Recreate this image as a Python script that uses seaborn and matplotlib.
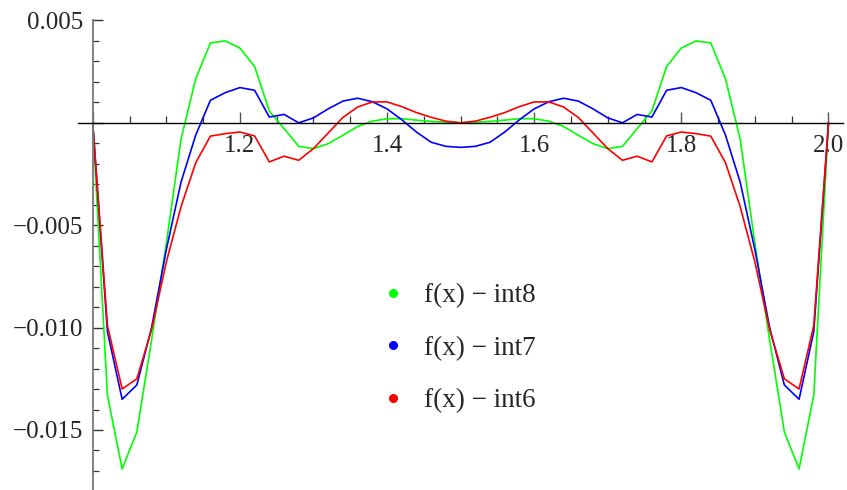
import matplotlib
matplotlib.use("Agg")
import matplotlib.pyplot as plt
from matplotlib.lines import Line2D
from matplotlib.ticker import FixedLocator, FixedFormatter, MultipleLocator
import numpy as np
import pandas as pd
import seaborn as sns

# ---- data ----
x_vals = [1.00, 1.02, 1.04, 1.06, 1.08, 1.10, 1.12, 1.14, 1.16, 1.18,
          1.20, 1.22, 1.24, 1.26, 1.28, 1.30, 1.32, 1.34, 1.36, 1.38,
          1.40, 1.42, 1.44, 1.46, 1.48, 1.50, 1.52, 1.54, 1.56, 1.58,
          1.60, 1.62, 1.64, 1.66, 1.68, 1.70, 1.72, 1.74, 1.76, 1.78,
          1.80, 1.82, 1.84, 1.86, 1.88, 1.90, 1.92, 1.94, 1.96, 1.98, 2.00]

int8_err = [0.0, -0.0133, -0.0169, -0.0151, -0.0106, -0.0059, -0.0008, 0.00215, 0.0039, 0.0040,
            0.00365, 0.00275, 0.00058, -0.00028, -0.00115, -0.00126, -0.00102, -0.00061, -0.00018, 0.00008,
            0.0002, 0.0002, 0.00013, 0.00007, 0.00003, 0.0, 0.00003, 0.00007, 0.00013, 0.0002,
            0.0002, 0.00008, -0.00018, -0.00061, -0.00102, -0.00126, -0.00115, -0.00028, 0.00058, 0.00275,
            0.00365, 0.0040, 0.0039, 0.00215, -0.0008, -0.0059, -0.0106, -0.0151, -0.0169, -0.0133, 0.0]

int7_err = [0.0, -0.0102, -0.0135, -0.0128, -0.0100, -0.0062, -0.0029, -0.0006, 0.0011, 0.00147,
            0.00172, 0.00159, 0.00028, 0.00041, 0.0, 0.00024, 0.00068, 0.00106, 0.0012, 0.00103,
            0.00068, 0.00015, -0.00045, -0.00095, -0.00115, -0.0012, -0.00115, -0.00095, -0.00045, 0.00015,
            0.00068, 0.00103, 0.0012, 0.00106, 0.00068, 0.00024, 0.0, 0.00041, 0.00028, 0.00159,
            0.00172, 0.00147, 0.0011, -0.0006, -0.0029, -0.0062, -0.0100, -0.0128, -0.0135, -0.0102, 0.0]

int6_err = [0.0, -0.0099, -0.0130, -0.0125, -0.0101, -0.0068, -0.0041, -0.00195, -0.00065, -0.00053,
            -0.00045, -0.00064, -0.00191, -0.00163, -0.00183, -0.00126, -0.0005, 0.00026, 0.00077, 0.00102,
            0.00102, 0.00079, 0.0005, 0.00027, 0.00008, 0.0, 0.00008, 0.00027, 0.0005, 0.00079,
            0.00102, 0.00102, 0.00077, 0.00026, -0.0005, -0.00126, -0.00183, -0.00163, -0.00191, -0.00064,
            -0.00045, -0.00053, -0.00065, -0.00195, -0.0041, -0.0068, -0.0101, -0.0125, -0.0130, -0.0099, 0.0]

series_names = ["f(x) \u2212 int8", "f(x) \u2212 int7", "f(x) \u2212 int6"]
series_colors = ["#00ff00", "#0000ff", "#ff0000"]

x_major = [1.0, 1.2, 1.4, 1.6, 1.8, 2.0]
x_major_labels = ["", "1.2", "1.4", "1.6", "1.8", "2.0"]
y_major = [-0.015, -0.010, -0.005, 0.0, 0.005]
y_major_labels = ["\u22120.015", "\u22120.010", "\u22120.005", "", "0.005"]

# ---- build long table ----
df = pd.concat([
    pd.DataFrame({"x": x_vals, "y": int8_err, "series": series_names[0]}),
    pd.DataFrame({"x": x_vals, "y": int7_err, "series": series_names[1]}),
    pd.DataFrame({"x": x_vals, "y": int6_err, "series": series_names[2]}),
], ignore_index=True)

sns.set_style("white")
plt.rcParams["font.family"] = ["Liberation Serif", "DejaVu Serif"]

W, H = 847, 490
fig = plt.figure(figsize=(W / 100, H / 100), dpi=100)
ax_left, ax_right, ax_top, ax_bottom = 78, 842.7, 20, 490
ax = fig.add_axes([ax_left / W, 1 - ax_bottom / H, (ax_right - ax_left) / W, (ax_bottom - ax_top) / H])
ax.set_facecolor("white")

sns.lineplot(data=df, x="x", y="y", hue="series", hue_order=series_names,
             palette=series_colors, linewidth=1.2, legend=False, errorbar=None, ax=ax)

ax.set_xlim(0.98, 2.0193)
ax.set_ylim(-0.01793, 0.00502)
ax.set_xlabel("")
ax.set_ylabel("")

for s in ["top", "right"]:
    ax.spines[s].set_visible(False)
ax.spines["left"].set_position(("data", 1.0))
ax.spines["bottom"].set_position(("data", 0.0))
ax.spines["left"].set_color("#777777")
ax.spines["left"].set_linewidth(1.3)
ax.spines["bottom"].set_color("black")
ax.spines["bottom"].set_linewidth(1.0)

ax.xaxis.set_major_locator(FixedLocator(x_major))
ax.xaxis.set_major_formatter(FixedFormatter(x_major_labels))
ax.xaxis.set_minor_locator(MultipleLocator(0.05))
ax.yaxis.set_major_locator(FixedLocator(y_major))
ax.yaxis.set_major_formatter(FixedFormatter(y_major_labels))
ax.yaxis.set_minor_locator(MultipleLocator(0.001))

ax.tick_params(axis="x", which="major", direction="in", length=8, width=1.0, color="#555555",
               labelsize=18, pad=8.5, bottom=True)
ax.tick_params(axis="x", which="minor", direction="in", length=5, width=0.9, color="#333333", bottom=True)
ax.tick_params(axis="y", which="major", direction="in", length=7, width=1.0, color="#333333",
               labelsize=18, pad=7, left=True)
ax.tick_params(axis="y", which="minor", direction="in", length=4.5, width=0.9, color="#333333", left=True)

handles = [Line2D([], [], marker="o", linestyle="", color=c, markersize=5.5) for c in series_colors]
leg = ax.legend(handles, series_names, loc="upper left",
                bbox_to_anchor=(382 / W, 1 - 283 / H), bbox_transform=fig.transFigure,
                frameon=False, fontsize=19.5, handlelength=0.8, handletextpad=0.75,
                labelspacing=1.02, borderpad=0, borderaxespad=0)

fig.savefig("out.png", dpi=100)
